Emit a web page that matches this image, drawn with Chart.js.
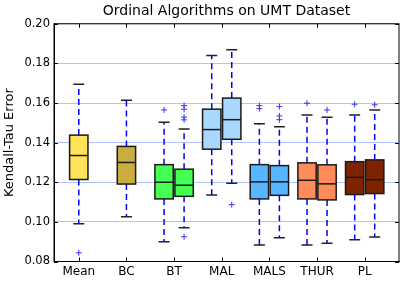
<!DOCTYPE html>
<html>
<head>
<meta charset="utf-8">
<script src="https://cdn.jsdelivr.net/npm/chart.js@4.4.1/dist/chart.umd.min.js"></script>
<style>
    body { margin: 0; background: #ffffff; }
    #wrap { width: 407px; height: 285px; }
</style>
</head>
<body>
<div id="wrap"><canvas id="umtChart" width="407" height="285"></canvas></div>
<script>
// categories along the x axis
const categories = ['Mean', 'BC', 'BT', 'MAL', 'MALS', 'THUR', 'PL'];

// one entry per box (some categories have two boxes side by side)
const boxGroup    = ['Mean', 'BC', 'BT', 'BT', 'MAL', 'MAL', 'MALS', 'MALS', 'THUR', 'THUR', 'PL', 'PL'];
const whiskerLow  = [0.0991, 0.1026, 0.0900, 0.0971, 0.1136, 0.1195, 0.0883, 0.0920, 0.0883, 0.0892, 0.0910, 0.0924];
const q1          = [0.1214, 0.1191, 0.1116, 0.1129, 0.1367, 0.1417, 0.1116, 0.1134, 0.1116, 0.1111, 0.1138, 0.1143];
const medians     = [0.1335, 0.1300, 0.1200, 0.1185, 0.1466, 0.1516, 0.1202, 0.1202, 0.1210, 0.1192, 0.1225, 0.1213];
const q3          = [0.1438, 0.1381, 0.1289, 0.1266, 0.1569, 0.1625, 0.1289, 0.1284, 0.1298, 0.1288, 0.1304, 0.1313];
const whiskerHigh = [0.1695, 0.1614, 0.1503, 0.1469, 0.1840, 0.1869, 0.1495, 0.1480, 0.1539, 0.1528, 0.1540, 0.1565];
const outliers = [
    [0.0844], [], [0.1565], [0.1587, 0.1569, 0.1529, 0.1515, 0.0925],
    [], [0.1087], [0.1587, 0.1572], [0.1582, 0.1535, 0.1516],
    [0.1599], [0.1565], [0.1594], [0.1591]
];

// y axis tick values
const yTicks = [0.08, 0.10, 0.12, 0.14, 0.16, 0.18, 0.20];

// styles
const fillColors = {
    Mean: '#ffe358', BC: '#c9ad3e', BT: '#45ff55', MAL: '#a8d8ff',
    MALS: '#58b5ff', THUR: '#ff8b5a', PL: '#7e2300'
};
const PAIR_OFFSET = 0.21;
const BOX_WIDTH = 0.385;
const CAP_WIDTH = 0.23;

function boxX(i) {
    const g = boxGroup[i];
    const base = categories.indexOf(g) + 1;
    const members = [];
    boxGroup.forEach((name, j) => { if (name === g) members.push(j); });
    if (members.length === 1) return base;
    return members.indexOf(i) === 0 ? base - PAIR_OFFSET : base + PAIR_OFFSET;
}

const outlierPoints = [];
outliers.forEach((list, i) => {
    list.forEach(v => outlierPoints.push({ x: boxX(i), y: v }));
});

const boxPlugin = {
    id: 'boxes',
    beforeDatasetsDraw(chart) {
        const { ctx, scales: { x, y } } = chart;
        const halfBox = (x.getPixelForValue(BOX_WIDTH) - x.getPixelForValue(0)) / 2;
        const halfCap = (x.getPixelForValue(CAP_WIDTH) - x.getPixelForValue(0)) / 2;
        ctx.save();
        boxGroup.forEach((g, i) => {
            const cx = x.getPixelForValue(boxX(i));
            const yLo = y.getPixelForValue(whiskerLow[i]);
            const yQ1 = y.getPixelForValue(q1[i]);
            const yMed = y.getPixelForValue(medians[i]);
            const yQ3 = y.getPixelForValue(q3[i]);
            const yHi = y.getPixelForValue(whiskerHigh[i]);

            // dashed whiskers
            ctx.strokeStyle = '#0000ff';
            ctx.lineWidth = 1.5;
            ctx.setLineDash([6, 4]);
            ctx.beginPath();
            ctx.moveTo(cx, yQ3); ctx.lineTo(cx, yHi);
            ctx.moveTo(cx, yQ1); ctx.lineTo(cx, yLo);
            ctx.stroke();
            ctx.setLineDash([]);

            // caps
            ctx.strokeStyle = '#222222';
            ctx.beginPath();
            ctx.moveTo(cx - halfCap, yHi); ctx.lineTo(cx + halfCap, yHi);
            ctx.moveTo(cx - halfCap, yLo); ctx.lineTo(cx + halfCap, yLo);
            ctx.stroke();

            // box
            ctx.fillStyle = fillColors[g];
            ctx.fillRect(cx - halfBox, yQ3, halfBox * 2, yQ1 - yQ3);
            ctx.strokeStyle = '#1a1a1a';
            ctx.lineWidth = 1.5;
            ctx.strokeRect(cx - halfBox, yQ3, halfBox * 2, yQ1 - yQ3);

            // median
            ctx.beginPath();
            ctx.moveTo(cx - halfBox, yMed); ctx.lineTo(cx + halfBox, yMed);
            ctx.stroke();
        });
        ctx.restore();
    },
    afterDatasetsDraw(chart) {
        const { ctx, chartArea: a, scales: { x, y } } = chart;
        ctx.save();
        ctx.strokeStyle = '#000000';
        ctx.lineWidth = 1;
        ctx.strokeRect(a.left, a.top, a.right - a.left, a.bottom - a.top);
        ctx.beginPath();
        yTicks.forEach(v => {
            const py = Math.round(y.getPixelForValue(v)) + 0.5;
            ctx.moveTo(a.left, py); ctx.lineTo(a.left + 4, py);
            ctx.moveTo(a.right, py); ctx.lineTo(a.right - 4, py);
        });
        categories.forEach((c, i) => {
            const px = Math.round(x.getPixelForValue(i + 1)) + 0.5;
            ctx.moveTo(px, a.bottom); ctx.lineTo(px, a.bottom - 4);
            ctx.moveTo(px, a.top); ctx.lineTo(px, a.top + 4);
        });
        ctx.stroke();
        ctx.restore();
    }
};

Chart.defaults.font.family = "'DejaVu Sans', sans-serif";
Chart.defaults.color = '#000000';

new Chart(document.getElementById('umtChart').getContext('2d'), {
    type: 'scatter',
    data: {
        datasets: [{
            label: 'outliers',
            data: outlierPoints,
            pointStyle: 'cross',
            radius: 3,
            borderWidth: 1,
            borderColor: '#3333ff',
            backgroundColor: '#3333ff'
        }]
    },
    options: {
        responsive: false,
        animation: false,
        layout: { padding: { left: 0, right: 8, top: 0, bottom: 0 } },
        plugins: {
            legend: { display: false },
            tooltip: { enabled: false },
            title: {
                display: true,
                text: 'Ordinal Algorithms on UMT Dataset',
                fullSize: false,
                color: '#000000',
                font: { size: 14, weight: 'normal' },
                padding: { top: 3, bottom: 4 }
            }
        },
        scales: {
            x: {
                type: 'linear',
                min: 0.48,
                max: 7.72,
                afterBuildTicks: scale => {
                    scale.ticks = categories.map((c, i) => ({ value: i + 1 }));
                },
                afterFit: scale => { scale.height = 23.5; },
                ticks: {
                    callback: v => categories[v - 1],
                    font: { size: 12 },
                    padding: 3,
                    maxRotation: 0,
                    autoSkip: false
                },
                grid: { display: false, drawTicks: false },
                border: { color: '#000000' }
            },
            y: {
                min: 0.08,
                max: 0.20,
                afterBuildTicks: scale => {
                    scale.ticks = yTicks.map(v => ({ value: v }));
                },
                afterFit: scale => { scale.width = 54; },
                ticks: {
                    callback: v => v.toFixed(2),
                    font: { size: 11.5 },
                    padding: 4
                },
                grid: { color: '#b0c2ff', drawTicks: false },
                border: { color: '#000000' },
                title: {
                    display: true,
                    text: 'Kendall-Tau Error',
                    font: { size: 13 },
                    padding: { top: 2, bottom: 0 }
                }
            }
        }
    },
    plugins: [boxPlugin]
});
</script>
</body>
</html>
